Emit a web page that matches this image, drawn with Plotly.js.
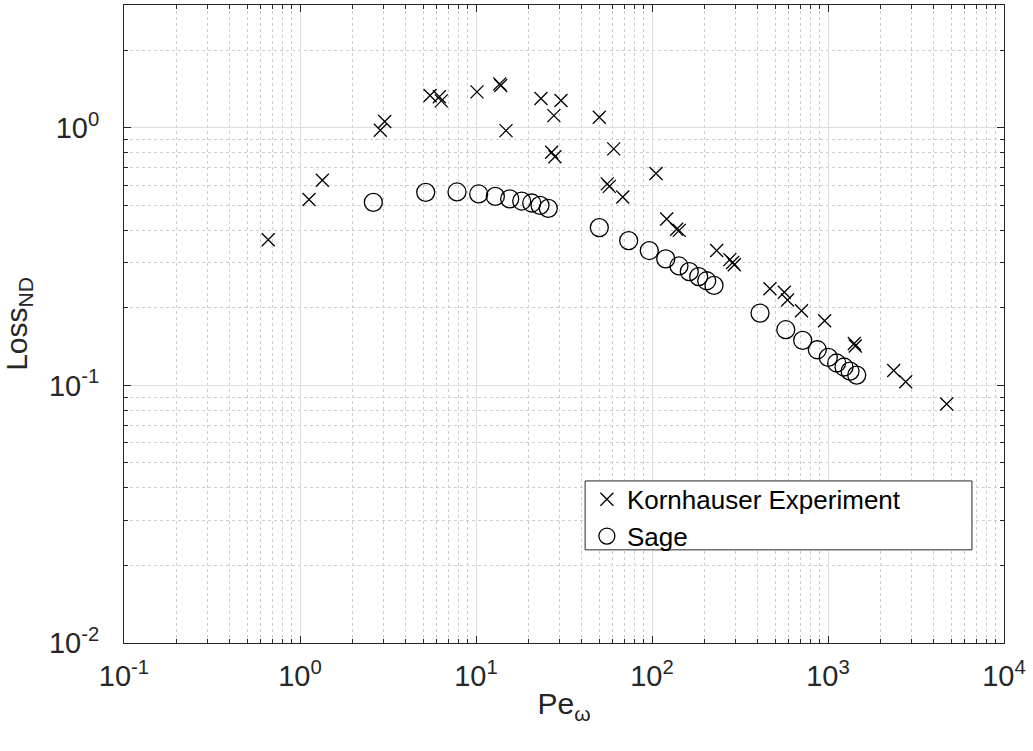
<!DOCTYPE html>
<html>
<head>
<meta charset="utf-8">
<script src="https://cdn.plot.ly/plotly-3.0.1.min.js"></script>
<style>
  html, body { margin: 0; padding: 0; background: #fff; }
  #chart { width: 1033px; height: 751px; }
</style>
</head>
<body>
<div id="chart"></div>
<script>
// Kornhauser experiment: dimensionless loss vs. oscillation Peclet number
const kornPe = [0.660, 1.125, 1.339, 2.86, 3.03, 5.48, 6.19, 6.35, 10.13, 13.64,
                13.81, 14.81, 23.4, 30.4, 27.7, 26.9, 28.1, 50.2, 60.6, 55.7,
                57.2, 68.2, 105.4, 121.2, 138.1, 142.9, 233, 277, 287, 293.5,
                468, 564.6, 589, 707, 957, 1411, 1429, 2362, 2764, 4725];
const kornLoss = [0.368, 0.527, 0.626, 0.979, 1.058, 1.335, 1.32, 1.273, 1.380, 1.482,
                  1.460, 0.976, 1.300, 1.277, 1.116, 0.804, 0.772, 1.100, 0.829, 0.606,
                  0.593, 0.539, 0.665, 0.443, 0.404, 0.400, 0.334, 0.308, 0.300, 0.294,
                  0.2375, 0.230, 0.2148, 0.195, 0.1784, 0.1456, 0.1423, 0.1143, 0.1034, 0.0847];

// Sage model predictions
const sagePe = [2.61, 5.18, 7.80, 10.36, 12.88, 15.54, 18.18, 20.73, 23.1, 25.75,
                50.2, 73.7, 96.5, 119.7, 142.3, 162.9, 184.2, 204.6, 225,
                410.9, 575.6, 718.3, 869.5, 1004, 1120, 1233, 1334, 1456];
const sageLoss = [0.514, 0.562, 0.564, 0.554, 0.542, 0.530, 0.520, 0.511, 0.5004, 0.487,
                  0.410, 0.365, 0.334, 0.310, 0.291, 0.2765, 0.2645, 0.255, 0.2446,
                  0.1908, 0.1646, 0.1496, 0.1376, 0.1285, 0.1222, 0.1179, 0.1137, 0.1097];

const seriesNames = ['Kornhauser Experiment', 'Sage'];

// Decade ticks and their labels
const xTickVals = [0.1, 1, 10, 100, 1000, 10000];
const xTickText = ['10<sup>-1</sup>', '10<sup>0</sup>', '10<sup>1</sup>', '10<sup>2</sup>', '10<sup>3</sup>', '10<sup>4</sup>'];
const yTickVals = [0.01, 0.1, 1];
const yTickText = ['10<sup>-2</sup>', '10<sup>-1</sup>', '10<sup>0</sup>'];

const fontFamily = 'Arial, "Liberation Sans", Helvetica, sans-serif';
const axisColor = '#262626';

const traces = [
  {
    x: kornPe, y: kornLoss, name: seriesNames[0],
    type: 'scatter', mode: 'markers',
    marker: { symbol: 'x-thin-open', size: 13, color: '#000', line: { color: '#000', width: 1.3 } }
  },
  {
    x: sagePe, y: sageLoss, name: seriesNames[1],
    type: 'scatter', mode: 'markers',
    marker: { symbol: 'circle-open', size: 18, color: '#000', line: { color: '#000', width: 1.3 } }
  }
];

function logAxis(range, tickVals, tickText, titleText) {
  return {
    type: 'log',
    range: range,
    tickmode: 'array',
    tickvals: tickVals,
    ticktext: tickText,
    ticks: 'inside',
    ticklen: 7,
    tickwidth: 1,
    tickcolor: axisColor,
    showline: true,
    linecolor: axisColor,
    linewidth: 1,
    mirror: 'ticks',
    showgrid: true,
    gridcolor: '#dedede',
    gridwidth: 1,
    zeroline: false,
    tickfont: { family: fontFamily, size: 29, color: axisColor },
    minor: {
      dtick: 'D1',
      ticks: 'inside',
      ticklen: 4,
      tickcolor: axisColor,
      showgrid: true,
      gridcolor: '#cdcdcd',
      griddash: 'dot',
      gridwidth: 1
    },
    title: { text: titleText, font: { family: fontFamily, size: 30, color: axisColor } }
  };
}

const xaxis = logAxis([-1, 4], xTickVals, xTickText, 'Pe<sub>ω</sub>');
xaxis.title.standoff = 2;
xaxis.ticklabelstandoff = 7;
const yaxis = logAxis([-2, Math.log10(3)], yTickVals, yTickText, 'Loss<sub>ND</sub>');
yaxis.title.standoff = 12;
yaxis.ticklabelstandoff = 18;

const layout = {
  width: 1033,
  height: 751,
  margin: { l: 124, r: 29, t: 5, b: 108 },
  paper_bgcolor: '#fff',
  plot_bgcolor: '#fff',
  xaxis: xaxis,
  yaxis: yaxis,
  showlegend: true,
  legend: {
    x: 0.526, y: 0.262,
    xanchor: 'left', yanchor: 'top',
    bgcolor: 'rgba(0,0,0,0)',
    borderwidth: 0,
    font: { family: fontFamily, size: 26, color: '#000' },
    tracegroupgap: 0
  },
  // legend frame
  shapes: [{
    type: 'rect', xref: 'paper', yref: 'paper', layer: 'above',
    x0: 0.524, x1: 0.9636, y0: 0.146, y1: 0.254,
    fillcolor: '#fff',
    line: { color: axisColor, width: 1 }
  }]
};

Plotly.newPlot('chart', traces, layout, { displayModeBar: false, staticPlot: true });
</script>
</body>
</html>
